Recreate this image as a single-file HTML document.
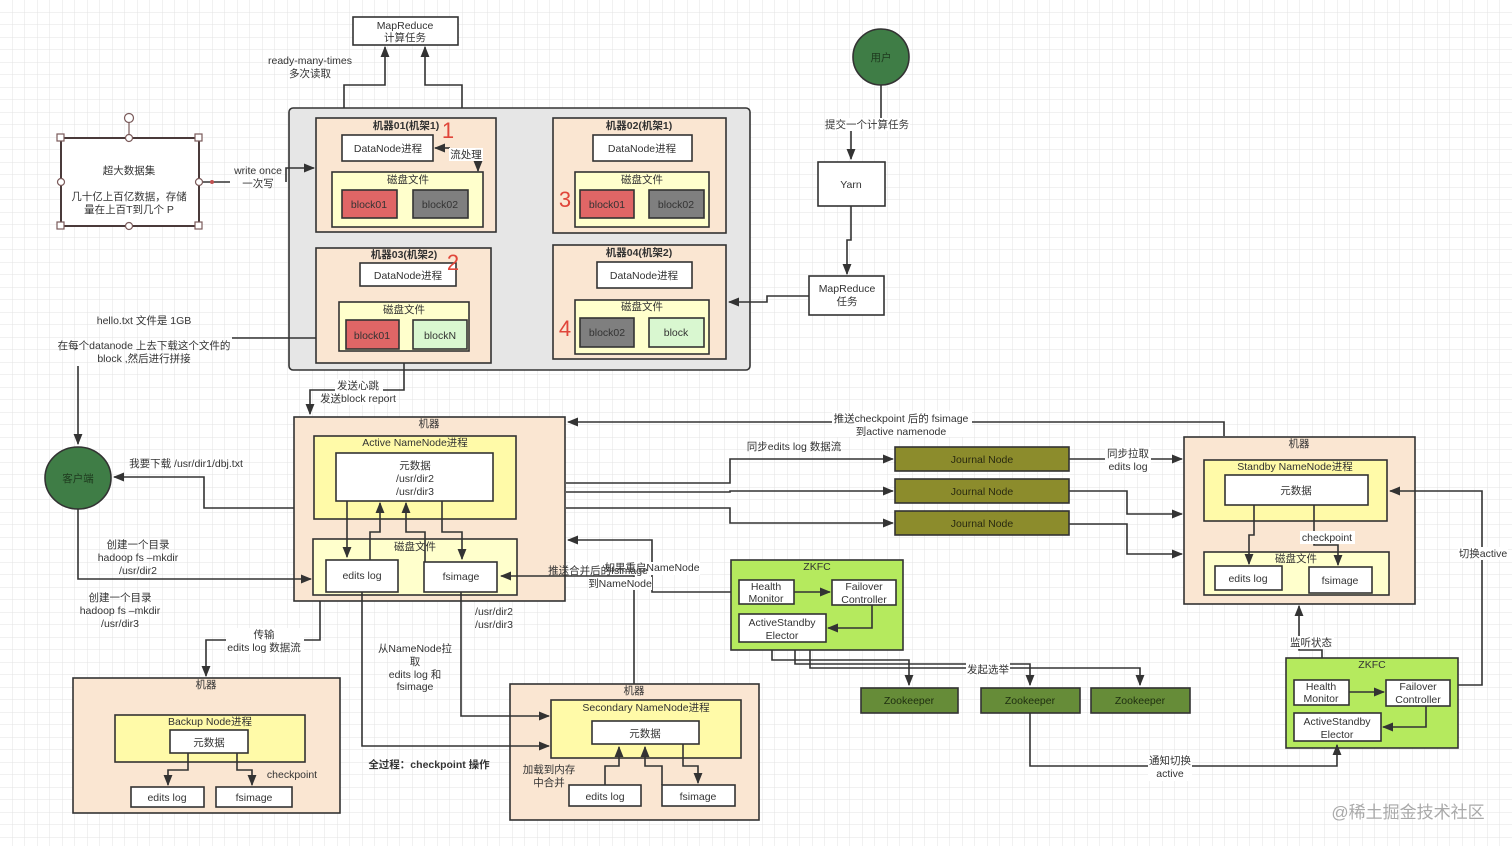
<!DOCTYPE html>
<html><head><meta charset="utf-8"><style>
html,body{margin:0;padding:0;background:#fff}
svg{display:block}
text{font-family:"Liberation Sans","Noto Sans CJK SC",sans-serif;font-size:10.5px;fill:#333;text-anchor:middle}
.b{font-weight:bold}
.l{fill:none;stroke:#333;stroke-width:1.6}
.bx{stroke:#333;stroke-width:1.6}
</style></head><body>
<svg width="1512" height="846" viewBox="0 0 1512 846">
<defs>
<pattern id="g" width="12.5" height="12.5" patternUnits="userSpaceOnUse"><path d="M12.5 0V12.5H0" fill="none" stroke="#e3e3e3" stroke-width="1"/></pattern>
<marker id="a" viewBox="0 0 10 10" refX="9" refY="5" markerWidth="7" markerHeight="7" orient="auto-start-reverse"><path d="M0 1L10 5L0 9z" fill="#333"/></marker>
</defs>
<rect width="1512" height="846" fill="url(#g)"/>

<!-- MapReduce top -->
<rect x="353" y="17" width="105" height="28" fill="#fff" class="bx"/>
<text x="405" y="29">MapReduce</text><text x="405" y="41">计算任务</text>
<path class="l" d="M344 118V85H385V47" marker-end="url(#a)"/>
<path class="l" d="M462 118V85H425V47" marker-end="url(#a)"/>
<text x="310" y="64">ready-many-times</text><text x="310" y="77">多次读取</text>

<!-- gray container -->
<rect x="289" y="108" width="461" height="262" rx="4" fill="#e6e6e6" class="bx"/>
<!-- m01 -->
<rect x="316" y="118" width="180" height="114" fill="#fae6d2" class="bx"/>
<text x="406" y="129" class="b">机器01(机架1)</text>
<rect x="342" y="135" width="91" height="26" fill="#fff" class="bx"/><text x="388" y="152">DataNode进程</text>
<rect x="332" y="172" width="151" height="55" fill="#ffffcc" class="bx"/><text x="408" y="183">磁盘文件</text>
<rect x="342" y="190" width="55" height="28" fill="#e06666" class="bx"/><text x="369" y="208">block01</text>
<rect x="413" y="190" width="55" height="28" fill="#7f7f7f" class="bx"/><text x="440" y="208">block02</text>
<path class="l" d="M478 160V171" marker-end="url(#a)"/><path class="l" d="M450 148H435" marker-end="url(#a)"/>
<rect x="449" y="148" width="34" height="13" fill="#fff"/><text x="466" y="158">流处理</text>
<text x="448" y="138" style="font-size:22px;fill:#e0463a">1</text>
<!-- m02 -->
<rect x="553" y="118" width="173" height="115" fill="#fae6d2" class="bx"/>
<text x="639" y="129" class="b">机器02(机架1)</text>
<rect x="593" y="135" width="99" height="26" fill="#fff" class="bx"/><text x="642" y="152">DataNode进程</text>
<rect x="575" y="172" width="134" height="55" fill="#ffffcc" class="bx"/><text x="642" y="183">磁盘文件</text>
<rect x="580" y="190" width="54" height="28" fill="#e06666" class="bx"/><text x="607" y="208">block01</text>
<rect x="649" y="190" width="55" height="28" fill="#7f7f7f" class="bx"/><text x="676" y="208">block02</text>
<text x="565" y="207" style="font-size:22px;fill:#e0463a">3</text>
<!-- m03 -->
<rect x="316" y="248" width="175" height="115" fill="#fae6d2" class="bx"/>
<text x="404" y="258" class="b">机器03(机架2)</text>
<rect x="360" y="263" width="96" height="23" fill="#fff" class="bx"/><text x="408" y="279">DataNode进程</text>
<text x="453" y="270" style="font-size:22px;fill:#e0463a">2</text>
<rect x="339" y="302" width="130" height="49" fill="#ffffcc" class="bx"/><text x="404" y="313">磁盘文件</text>
<rect x="346" y="320" width="53" height="29" fill="#e06666" class="bx"/><text x="372" y="339">block01</text>
<rect x="413" y="320" width="54" height="29" fill="#d9f7d0" class="bx"/><text x="440" y="339">blockN</text>
<!-- m04 -->
<rect x="553" y="245" width="173" height="114" fill="#fae6d2" class="bx"/>
<text x="639" y="256" class="b">机器04(机架2)</text>
<rect x="597" y="262" width="95" height="26" fill="#fff" class="bx"/><text x="644" y="279">DataNode进程</text>
<rect x="575" y="300" width="134" height="54" fill="#ffffcc" class="bx"/><text x="642" y="310">磁盘文件</text>
<rect x="580" y="318" width="54" height="29" fill="#7f7f7f" class="bx"/><text x="607" y="336">block02</text>
<rect x="649" y="318" width="55" height="29" fill="#d9f7d0" class="bx"/><text x="676" y="336">block</text>
<text x="565" y="336" style="font-size:22px;fill:#e0463a">4</text>

<!-- big dataset -->
<line x1="129" y1="123" x2="129" y2="138" stroke="#7a5a5a" stroke-width="1.2"/>
<circle cx="129" cy="118" r="4.5" fill="#fff" stroke="#7a5a5a" stroke-width="1.2"/>
<rect x="61" y="138" width="138" height="88" fill="#fff" stroke="#4a3a3a" stroke-width="2"/>
<g fill="#fff" stroke="#7a5a5a" stroke-width="1.2">
<rect x="57" y="134" width="7" height="7"/><rect x="195" y="134" width="7" height="7"/><rect x="57" y="222" width="7" height="7"/><rect x="195" y="222" width="7" height="7"/>
<circle cx="129" cy="138" r="3.5"/><circle cx="129" cy="226" r="3.5"/><circle cx="61" cy="182" r="3.5"/><circle cx="199" cy="182" r="3.5"/></g>
<text x="129" y="174">超大数据集</text><text x="129" y="200">几十亿上百亿数据，存储</text><text x="129" y="213">量在上百T到几个 P</text>
<path class="l" d="M203 182H230"/><circle cx="212" cy="182" r="2" fill="#c05050"/>
<path class="l" d="M286 182V168H314" marker-end="url(#a)"/>
<text x="258" y="174">write once</text><text x="258" y="187">一次写</text>

<!-- user / yarn -->
<circle cx="881" cy="57" r="28" fill="#3f7d46" class="bx"/><text x="881" y="61" style="fill:#1e3a1e">用户</text>
<path class="l" d="M881 85V130H851V159" marker-end="url(#a)"/>
<rect x="826" y="118" width="84" height="13" fill="#fff"/><text x="867" y="128">提交一个计算任务</text>
<rect x="818" y="162" width="67" height="44" fill="#fff" class="bx"/><text x="851" y="188">Yarn</text>
<path class="l" d="M851 206V240H847V274" marker-end="url(#a)"/>
<rect x="809" y="276" width="75" height="39" fill="#fff" class="bx"/><text x="847" y="292">MapReduce</text><text x="847" y="305">任务</text>
<path class="l" d="M809 296H767V302H729" marker-end="url(#a)"/>

<!-- hello text / client -->
<text x="144" y="324">hello.txt 文件是 1GB</text>
<text x="144" y="349">在每个datanode 上去下载这个文件的</text><text x="144" y="362">block ,然后进行拼接</text>
<path class="l" d="M232 338H316"/>
<path class="l" d="M78 366V444" marker-end="url(#a)"/>
<ellipse cx="78" cy="478" rx="33" ry="31" fill="#3f7d46" class="bx"/><text x="78" y="482" style="fill:#1e3a1e">客户端</text>
<path class="l" d="M294 508H204V477H114" marker-end="url(#a)"/>
<text x="186" y="467">我要下载 /usr/dir1/dbj.txt</text>
<text x="138" y="548">创建一个目录</text><text x="138" y="561">hadoop fs –mkdir</text><text x="138" y="574">/usr/dir2</text>
<text x="120" y="601">创建一个目录</text><text x="120" y="614">hadoop fs –mkdir</text><text x="120" y="627">/usr/dir3</text>
<path class="l" d="M404 363V390H310V414" marker-end="url(#a)"/>
<rect x="335" y="379" width="48" height="26" fill="#fff"/><text x="358" y="389">发送心跳</text><text x="358" y="402">发送block report</text>

<!-- active machine -->
<rect x="294" y="417" width="271" height="184" fill="#fae6d2" class="bx"/>
<text x="429" y="427">机器</text>
<rect x="314" y="436" width="202" height="83" class="bx" style="fill:#fffaa8"/>
<text x="415" y="446">Active NameNode进程</text>
<rect x="336" y="453" width="157" height="48" fill="#fff" class="bx"/>
<text x="415" y="469">元数据</text><text x="415" y="482">/usr/dir2</text><text x="415" y="495">/usr/dir3</text>
<rect x="313" y="539" width="204" height="56" fill="#ffffcc" class="bx"/><text x="415" y="550">磁盘文件</text>
<rect x="326" y="560" width="72" height="32" fill="#fff" class="bx"/><text x="362" y="579">edits log</text>
<rect x="424" y="562" width="73" height="30" fill="#fff" class="bx"/><text x="461" y="580">fsimage</text>
<path class="l" d="M347 501V557" marker-end="url(#a)"/>
<path class="l" d="M370 560V532H380V503" marker-end="url(#a)"/>
<path class="l" d="M425 562V532H406V503" marker-end="url(#a)"/>
<path class="l" d="M442 501V532H462V559" marker-end="url(#a)"/>
<path class="l" d="M78 509V579H311" marker-end="url(#a)"/>
<path class="l" d="M320 601V640H206V676" marker-end="url(#a)"/>
<rect x="226" y="628" width="78" height="26" fill="#fff"/><text x="264" y="638">传输</text><text x="264" y="651">edits log 数据流</text>

<!-- backup machine -->
<rect x="73" y="678" width="267" height="135" fill="#fae6d2" class="bx"/><text x="206" y="688">机器</text>
<rect x="115" y="715" width="190" height="47" fill="#fffaa8" class="bx"/><text x="210" y="725">Backup Node进程</text>
<rect x="170" y="730" width="78" height="23" fill="#fff" class="bx"/><text x="209" y="746">元数据</text>
<rect x="131" y="787" width="73" height="20" fill="#fff" class="bx"/><text x="167" y="801">edits log</text>
<rect x="216" y="787" width="76" height="20" fill="#fff" class="bx"/><text x="254" y="801">fsimage</text>
<path class="l" d="M188 753V770H168V785" marker-end="url(#a)"/>
<path class="l" d="M237 753V770H252V785" marker-end="url(#a)"/>
<text x="292" y="778">checkpoint</text>

<!-- secondary -->
<text x="494" y="615">/usr/dir2</text><text x="494" y="628">/usr/dir3</text>
<text x="415" y="652">从NameNode拉</text><text x="415" y="665">取</text><text x="415" y="678">edits log 和</text><text x="415" y="690">fsimage</text>
<text x="429" y="768" class="b">全过程：checkpoint 操作</text>
<rect x="510" y="684" width="249" height="136" fill="#fae6d2" class="bx"/><text x="634" y="694">机器</text>
<rect x="551" y="700" width="190" height="58" fill="#fffaa8" class="bx"/><text x="646" y="711">Secondary NameNode进程</text>
<rect x="592" y="721" width="107" height="23" fill="#fff" class="bx"/><text x="645" y="737">元数据</text>
<rect x="569" y="785" width="72" height="21" fill="#fff" class="bx"/><text x="605" y="800">edits log</text>
<rect x="662" y="785" width="73" height="21" fill="#fff" class="bx"/><text x="698" y="800">fsimage</text>
<path class="l" d="M362 592V746H549" marker-end="url(#a)"/>
<path class="l" d="M461 592V716H549" marker-end="url(#a)"/>
<path class="l" d="M605 785V766H619V747" marker-end="url(#a)"/>
<path class="l" d="M662 785V766H645V747" marker-end="url(#a)"/>
<path class="l" d="M683 744V766H698V783" marker-end="url(#a)"/>
<text x="549" y="773">加载到内存</text><text x="549" y="786">中合并</text>
<path class="l" d="M634 684V576H501" marker-end="url(#a)"/>
<path class="l" d="M740 592H652V540H568" marker-end="url(#a)"/>
<rect x="570" y="562" width="130" height="13" fill="#fff"/>
<text x="598" y="574">推送合并后的fsimage</text>
<text x="652" y="571">如果重启NameNode</text>
<rect x="588" y="577" width="64" height="13" fill="#fff"/><text x="620" y="587">到NameNode</text>

<!-- checkpoint push -->
<path class="l" d="M1224 436V422H568" marker-end="url(#a)"/>
<rect x="832" y="411" width="140" height="26" fill="#fff"/>
<text x="901" y="422">推送checkpoint 后的 fsimage</text><text x="901" y="435">到active namenode</text>
<text x="794" y="450">同步edits log 数据流</text>
<path class="l" d="M566 483H730V459H893" marker-end="url(#a)"/>
<path class="l" d="M566 492H730V491H893" marker-end="url(#a)"/>
<path class="l" d="M566 508H730V523H893" marker-end="url(#a)"/>
<g class="bx" fill="#8c8c2c">
<rect x="895" y="447" width="174" height="24"/><rect x="895" y="479" width="174" height="24"/><rect x="895" y="511" width="174" height="24"/></g>
<text x="982" y="463" style="fill:#2a2a10">Journal Node</text><text x="982" y="495" style="fill:#2a2a10">Journal Node</text><text x="982" y="527" style="fill:#2a2a10">Journal Node</text>
<path class="l" d="M1069 459H1182" marker-end="url(#a)"/>
<rect x="1105" y="447" width="46" height="26" fill="#fff"/><text x="1128" y="457">同步拉取</text><text x="1128" y="470">edits log</text>
<path class="l" d="M1069 491H1127V514H1182" marker-end="url(#a)"/>
<path class="l" d="M1069 524H1127V554H1182" marker-end="url(#a)"/>

<!-- standby -->
<rect x="1184" y="437" width="231" height="167" fill="#fae6d2" class="bx"/><text x="1299" y="447">机器</text>
<rect x="1204" y="460" width="183" height="61" fill="#fffaa8" class="bx"/><text x="1295" y="470">Standby NameNode进程</text>
<rect x="1225" y="475" width="143" height="30" fill="#fff" class="bx"/><text x="1296" y="494">元数据</text>
<rect x="1204" y="552" width="185" height="43" fill="#ffffcc" class="bx"/><text x="1296" y="562">磁盘文件</text>
<rect x="1215" y="566" width="67" height="24" fill="#fff" class="bx"/><text x="1248" y="582">edits log</text>
<rect x="1309" y="567" width="63" height="26" fill="#fff" class="bx"/><text x="1340" y="584">fsimage</text>
<path class="l" d="M1254 505V535H1249V564" marker-end="url(#a)"/>
<path class="l" d="M1314 505V545H1338V565" marker-end="url(#a)"/>
<rect x="1300" y="531" width="55" height="13" fill="#fff"/><text x="1327" y="541">checkpoint</text>
<path class="l" d="M1450 685H1482V491H1390" marker-end="url(#a)"/>
<rect x="1458" y="547" width="50" height="13" fill="#fff"/><text x="1483" y="557">切换active</text>
<path class="l" d="M1322 680V650H1299V606" marker-end="url(#a)"/>
<rect x="1288" y="636" width="46" height="13" fill="#fff"/><text x="1311" y="646">监听状态</text>

<!-- ZKFC right -->
<rect x="1286" y="658" width="172" height="90" fill="#b5ea5e" class="bx"/><text x="1372" y="668">ZKFC</text>
<rect x="1294" y="680" width="55" height="25" fill="#fff" class="bx"/><text x="1321" y="690">Health</text><text x="1321" y="702">Monitor</text>
<rect x="1386" y="680" width="64" height="26" fill="#fff" class="bx"/><text x="1418" y="690">Failover</text><text x="1418" y="703">Controller</text>
<rect x="1294" y="713" width="87" height="28" fill="#fff" class="bx"/><text x="1337" y="725">ActiveStandby</text><text x="1337" y="738">Elector</text>
<path class="l" d="M1349 692H1384" marker-end="url(#a)"/>
<path class="l" d="M1426 706V727H1383" marker-end="url(#a)"/>

<!-- ZKFC left -->
<rect x="731" y="560" width="172" height="90" fill="#b5ea5e" class="bx"/><text x="817" y="570">ZKFC</text>
<rect x="739" y="580" width="55" height="24" fill="#fff" class="bx"/><text x="766" y="590">Health</text><text x="766" y="602">Monitor</text>
<rect x="832" y="580" width="64" height="25" fill="#fff" class="bx"/><text x="864" y="590">Failover</text><text x="864" y="603">Controller</text>
<rect x="739" y="614" width="87" height="28" fill="#fff" class="bx"/><text x="782" y="626">ActiveStandby</text><text x="782" y="639">Elector</text>
<path class="l" d="M794 592H830" marker-end="url(#a)"/>
<path class="l" d="M872 605V628H828" marker-end="url(#a)"/>
<path class="l" d="M772 650V660H909V685" marker-end="url(#a)"/>
<path class="l" d="M795 650V664H1030V685" marker-end="url(#a)"/>
<path class="l" d="M810 650V668H1140V685" marker-end="url(#a)"/>
<rect x="966" y="662" width="44" height="13" fill="#fff"/><text x="988" y="673">发起选举</text>
<g class="bx" fill="#668c38">
<rect x="861" y="688" width="97" height="25"/><rect x="981" y="688" width="99" height="25"/><rect x="1091" y="688" width="99" height="25"/></g>
<text x="909" y="704" style="fill:#1e2e10">Zookeeper</text><text x="1030" y="704" style="fill:#1e2e10">Zookeeper</text><text x="1140" y="704" style="fill:#1e2e10">Zookeeper</text>
<path class="l" d="M1030 713V766H1337V745" marker-end="url(#a)"/>
<rect x="1148" y="755" width="44" height="26" fill="#fff"/><text x="1170" y="764">通知切换</text><text x="1170" y="777">active</text>

<text x="1408" y="818" style="font-size:17px;fill:#aaa">@稀土掘金技术社区</text>
</svg>
</body></html>
